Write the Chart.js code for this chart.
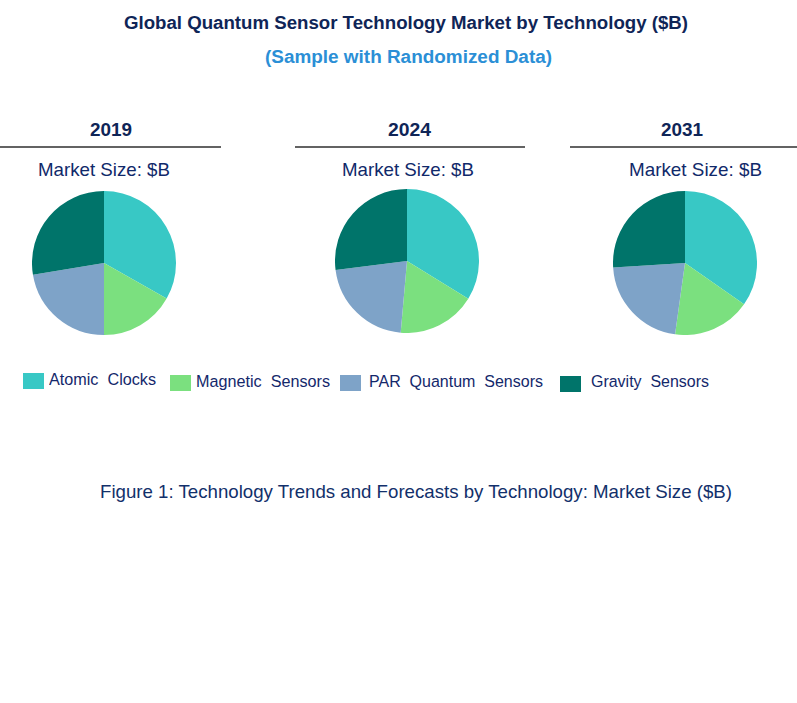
<!DOCTYPE html>
<html>
<head>
<meta charset="utf-8">
<script src="https://cdn.jsdelivr.net/npm/chart.js@4.4.1/dist/chart.umd.min.js"></script>
<style>
    html, body {
        margin: 0;
        padding: 0;
        background: #ffffff;
    }
    #page {
        position: relative;
        width: 797px;
        height: 703px;
        overflow: hidden;
        font-family: 'Liberation Sans', Arial, sans-serif;
    }
    .txt {
        position: absolute;
        white-space: nowrap;
        line-height: 1;
        transform-origin: left top;
    }
    .rule {
        position: absolute;
        height: 2px;
        background: #636363;
    }
    .pie {
        position: absolute;
    }
    .swatch {
        position: absolute;
        width: 21px;
        height: 16px;
    }
</style>
</head>
<body>
<div id="page">
    <div class="txt" id="title" data-w="564" style="left:124px; top:14.5px; font-size:17.5px; font-weight:bold; color:#0f2557;">Global Quantum Sensor Technology Market by Technology ($B)</div>
    <div class="txt" id="subtitle" data-w="287" style="left:265px; top:48.5px; font-size:17.5px; font-weight:bold; color:#2b8fd6;">(Sample with Randomized Data)</div>

    <div class="txt" data-w="42" style="left:90px; top:122px; font-size:17.5px; font-weight:bold; color:#0f2557;">2019</div>
    <div class="txt" data-w="43" style="left:388px; top:122px; font-size:17.5px; font-weight:bold; color:#0f2557;">2024</div>
    <div class="txt" data-w="42" style="left:661px; top:122px; font-size:17.5px; font-weight:bold; color:#0f2557;">2031</div>

    <div class="rule" style="left:0px; top:146px; width:221px;"></div>
    <div class="rule" style="left:295px; top:146px; width:230px;"></div>
    <div class="rule" style="left:570px; top:146px; width:227px;"></div>

    <div class="txt" data-w="132" style="left:38px; top:161px; font-size:18.5px; color:#10296a;">Market Size: $B</div>
    <div class="txt" data-w="132" style="left:342px; top:161px; font-size:18.5px; color:#10296a;">Market Size: $B</div>
    <div class="txt" data-w="133" style="left:629px; top:161px; font-size:18.5px; color:#10296a;">Market Size: $B</div>

    <canvas class="pie" id="pie2019" width="144" height="144" style="left:32px; top:191px;"></canvas>
    <canvas class="pie" id="pie2024" width="144" height="144" style="left:335px; top:189px;"></canvas>
    <canvas class="pie" id="pie2031" width="144" height="144" style="left:613px; top:191px;"></canvas>

    <div id="legend"></div>

    <div class="txt" id="caption" data-w="632" style="left:100px; top:483.6px; font-size:17.8px; color:#12306b;">Figure 1: Technology Trends and Forecasts by Technology: Market Size ($B)</div>
</div>

<script>
const technologies = ['Atomic Clocks', 'Magnetic Sensors', 'PAR Quantum Sensors', 'Gravity Sensors'];
const years = ['2019', '2024', '2031'];
// share of market size per technology
const share2019 = [33.2, 16.8, 22.4, 27.6];
const share2024 = [33.8, 17.6, 21.6, 27.0];
const share2031 = [34.7, 17.5, 21.8, 26.0];
const techColors = ['#38c8c5', '#7be07f', '#7ea3c8', '#00746a'];

const charts = {};

function renderPie(canvasId, data, labels, colors) {
    const canvas = document.getElementById(canvasId);
    if (!canvas) return;
    const ctx = canvas.getContext('2d');
    charts[canvasId] = new Chart(ctx, {
        type: 'pie',
        data: {
            labels: labels,
            datasets: [{
                data: data,
                backgroundColor: colors,
                borderWidth: 0
            }]
        },
        options: {
            responsive: false,
            animation: false,
            layout: { padding: 0 },
            plugins: {
                legend: { display: false },
                tooltip: { enabled: false }
            }
        }
    });
}

renderPie('pie2019', share2019, technologies, techColors);
renderPie('pie2024', share2024, technologies, techColors);
renderPie('pie2031', share2031, technologies, techColors);

// legend built from the same labels / colours
const legendSpots = [
    { sx: 23, sy: 373, tx: 49, ty: 372, w: 107 },
    { sx: 170, sy: 375, tx: 196, ty: 373.5, w: 134 },
    { sx: 340, sy: 375, tx: 369, ty: 373.5, w: 174 },
    { sx: 560, sy: 376, tx: 591, ty: 373.5, w: 118 }
];
const legend = document.getElementById('legend');
technologies.forEach(function (name, i) {
    const spot = legendSpots[i];
    const sw = document.createElement('div');
    sw.className = 'swatch';
    sw.style.left = spot.sx + 'px';
    sw.style.top = spot.sy + 'px';
    sw.style.background = techColors[i];
    legend.appendChild(sw);

    const t = document.createElement('div');
    t.className = 'txt';
    t.textContent = name.replace(/ /g, '\u00a0 ');
    t.dataset.w = spot.w;
    t.style.left = spot.tx + 'px';
    t.style.top = spot.ty + 'px';
    t.style.fontSize = '16.8px';
    t.style.color = '#14286b';
    legend.appendChild(t);
});

// stretch each text horizontally so it spans the same width as the reference
document.querySelectorAll('.txt[data-w]').forEach(function (el) {
    const target = parseFloat(el.dataset.w);
    const w = el.getBoundingClientRect().width;
    if (w > 0) {
        el.style.transform = 'scaleX(' + (target / w).toFixed(4) + ')';
    }
});
</script>
</body>
</html>
